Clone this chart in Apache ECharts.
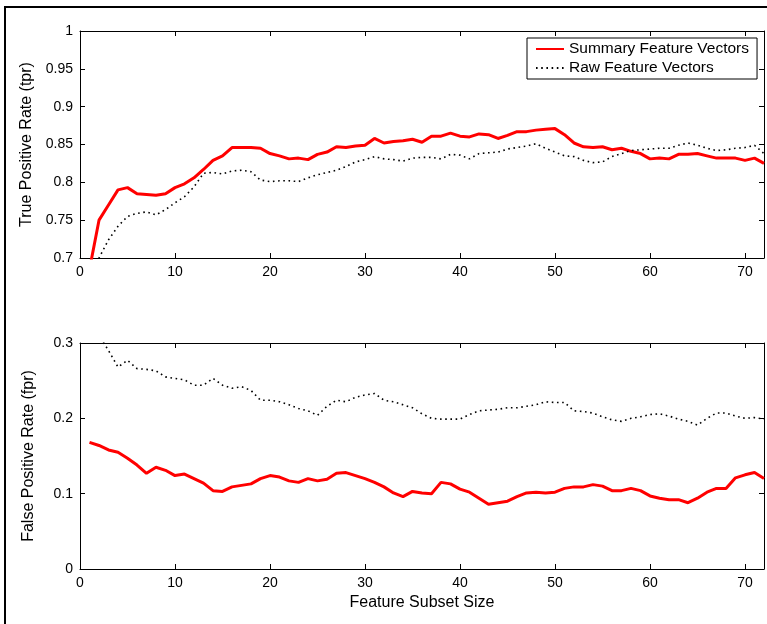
<!DOCTYPE html>
<html>
<head>
<meta charset="utf-8">
<script src="https://cdn.jsdelivr.net/npm/echarts@6/dist/echarts.min.js"></script>
<style>
html, body { margin: 0; padding: 0; background: #fff; }
#main { width: 767px; height: 624px; }
</style>
</head>
<body>
<div id="main"></div>
<script>
// feature subset sizes 1..72
const sizes = Array.from({ length: 72 }, (_, i) => i + 1);

const tprSummary = [
  0.685, 0.750, 0.770, 0.790, 0.793, 0.785, 0.784, 0.783, 0.785, 0.793,
  0.798, 0.806, 0.817, 0.829, 0.835, 0.846, 0.846, 0.846, 0.845, 0.838,
  0.835, 0.831, 0.832, 0.830, 0.837, 0.840, 0.847, 0.846, 0.848, 0.849,
  0.858, 0.852, 0.854, 0.855, 0.857, 0.853, 0.861, 0.861, 0.865, 0.861,
  0.860, 0.864, 0.863, 0.858, 0.862, 0.867, 0.867, 0.869, 0.870, 0.871,
  0.863, 0.852, 0.847, 0.846, 0.847, 0.843, 0.845, 0.841, 0.838, 0.831,
  0.832, 0.831, 0.837, 0.837, 0.838, 0.835, 0.832, 0.832, 0.832, 0.829,
  0.832, 0.825
];
const tprRaw = [
  0.660, 0.700, 0.724, 0.742, 0.755, 0.759, 0.761, 0.757, 0.764, 0.773,
  0.781, 0.794, 0.812, 0.813, 0.811, 0.815, 0.816, 0.814, 0.803, 0.801,
  0.802, 0.802, 0.801, 0.806, 0.810, 0.813, 0.816, 0.821, 0.827, 0.830,
  0.834, 0.831, 0.830, 0.828, 0.832, 0.833, 0.833, 0.831, 0.837, 0.836,
  0.831, 0.838, 0.839, 0.840, 0.844, 0.846, 0.848, 0.851, 0.845, 0.840,
  0.835, 0.834, 0.829, 0.826, 0.827, 0.834, 0.838, 0.842, 0.843, 0.844,
  0.845, 0.845, 0.849, 0.852, 0.849, 0.845, 0.842, 0.843, 0.845, 0.846,
  0.849, 0.838
];
const fprSummary = [
  0.168, 0.164, 0.158, 0.155, 0.147, 0.138, 0.127, 0.135, 0.131, 0.124,
  0.126, 0.120, 0.114, 0.104, 0.103, 0.109, 0.111, 0.113, 0.120, 0.124,
  0.122, 0.117, 0.115, 0.120, 0.117, 0.119, 0.127, 0.128, 0.124, 0.120,
  0.115, 0.109, 0.101, 0.096, 0.103, 0.101, 0.100, 0.115, 0.113, 0.106,
  0.102, 0.094, 0.086, 0.088, 0.090, 0.096, 0.101, 0.102, 0.101, 0.102,
  0.107, 0.109, 0.109, 0.112, 0.110, 0.104, 0.104, 0.107, 0.104, 0.097,
  0.094, 0.092, 0.092, 0.088, 0.094, 0.102, 0.107, 0.107, 0.121, 0.125,
  0.128, 0.120
];
const fprRaw = [
  0.330, 0.310, 0.290, 0.268, 0.277, 0.266, 0.265, 0.263, 0.255, 0.253,
  0.251, 0.244, 0.244, 0.253, 0.244, 0.240, 0.242, 0.237, 0.224, 0.224,
  0.222, 0.218, 0.213, 0.210, 0.204, 0.216, 0.224, 0.222, 0.228, 0.231,
  0.233, 0.224, 0.222, 0.218, 0.214, 0.206, 0.200, 0.199, 0.199, 0.199,
  0.205, 0.210, 0.211, 0.212, 0.214, 0.214, 0.216, 0.218, 0.222, 0.221,
  0.221, 0.210, 0.209, 0.207, 0.202, 0.198, 0.196, 0.200, 0.202, 0.205,
  0.206, 0.203, 0.199, 0.196, 0.191, 0.200, 0.207, 0.207, 0.203, 0.200,
  0.201, 0.199
];

const FONT = 'Liberation Sans, Arial, Helvetica, sans-serif';
const pairs = (ys) => sizes.map((x, i) => [x, ys[i]]);

const myChart = echarts.init(document.getElementById('main'));

// one x axis (bottom, with labels) and one mirror (top, ticks only) per grid
function xAxes(gridIndex, name) {
  const base = {
    type: 'value', gridIndex: gridIndex, min: 0, max: 72, interval: 10,
    axisLine: { show: true, onZero: false, lineStyle: { color: '#000', width: 1 } },
    axisTick: { show: true, inside: true, length: 5, lineStyle: { color: '#000' } },
    splitLine: { show: false },
  };
  return [
    Object.assign({}, base, {
      position: 'bottom',
      name: name,
      nameLocation: 'middle',
      nameGap: 26,
      nameTextStyle: { fontFamily: FONT, fontSize: 16, color: '#000' },
      axisLabel: { color: '#000', fontFamily: FONT, fontSize: 14, margin: 7, showMaxLabel: false },
    }),
    Object.assign({}, base, { position: 'top', axisLabel: { show: false } }),
  ];
}

function yAxes(gridIndex, min, max, interval, name) {
  const base = {
    type: 'value', gridIndex: gridIndex, min: min, max: max, interval: interval,
    axisLine: { show: true, onZero: false, lineStyle: { color: '#000', width: 1 } },
    axisTick: { show: true, inside: true, length: 5, lineStyle: { color: '#000' } },
    splitLine: { show: false },
  };
  return [
    Object.assign({}, base, {
      position: 'left',
      name: name,
      nameLocation: 'middle',
      nameGap: 43,
      nameTextStyle: { fontFamily: FONT, fontSize: 16, color: '#000' },
      axisLabel: { color: '#000', fontFamily: FONT, fontSize: 14, margin: 7 },
    }),
    Object.assign({}, base, { position: 'right', axisLabel: { show: false } }),
  ];
}

const redLine = { color: '#ff0000', width: 3 };
const dotLine = { color: '#000', width: 1.6, type: [1.6, 3.6] };

const option = {
  animation: false,
  backgroundColor: '#fff',
  textStyle: { fontFamily: FONT },
  graphic: [{
    type: 'polyline',
    shape: { points: [[5, 624], [5, 7], [767, 7]] },
    style: { stroke: '#000', lineWidth: 2, fill: null },
  }],
  legend: {
    left: 527,
    top: 38,
    orient: 'vertical',
    backgroundColor: '#fff',
    borderColor: '#000',
    borderWidth: 1,
    borderRadius: 0,
    padding: [3, 8, 3, 8],
    itemGap: 3,
    itemWidth: 28,
    itemHeight: 14,
    itemStyle: { opacity: 0, borderWidth: 0 },
    textStyle: { fontFamily: FONT, fontSize: 15.5, color: '#000' },
    data: ['Summary Feature Vectors', 'Raw Feature Vectors'],
  },
  grid: [
    { left: 80, right: 3, top: 31, height: 227 },
    { left: 80, right: 3, top: 343, height: 226 },
  ],
  xAxis: xAxes(0, '').concat(xAxes(1, 'Feature Subset Size')),
  yAxis: yAxes(0, 0.7, 1, 0.05, 'True Positive Rate (tpr)')
    .concat(yAxes(1, 0, 0.3, 0.1, 'False Positive Rate (fpr)')),
  series: [
    {
      name: 'Summary Feature Vectors', type: 'line', xAxisIndex: 0, yAxisIndex: 0,
      symbol: 'none', lineStyle: redLine, itemStyle: { color: '#ff0000' }, z: 3,
      data: pairs(tprSummary),
    },
    {
      name: 'Raw Feature Vectors', type: 'line', xAxisIndex: 0, yAxisIndex: 0,
      symbol: 'none', lineStyle: dotLine, itemStyle: { color: '#000' },
      data: pairs(tprRaw),
    },
    {
      name: 'Summary Feature Vectors', type: 'line', xAxisIndex: 2, yAxisIndex: 2,
      symbol: 'none', lineStyle: redLine, itemStyle: { color: '#ff0000' }, z: 3,
      data: pairs(fprSummary),
    },
    {
      name: 'Raw Feature Vectors', type: 'line', xAxisIndex: 2, yAxisIndex: 2,
      symbol: 'none', lineStyle: dotLine, itemStyle: { color: '#000' },
      data: pairs(fprRaw),
    },
  ],
};

myChart.setOption(option);
</script>
</body>
</html>
